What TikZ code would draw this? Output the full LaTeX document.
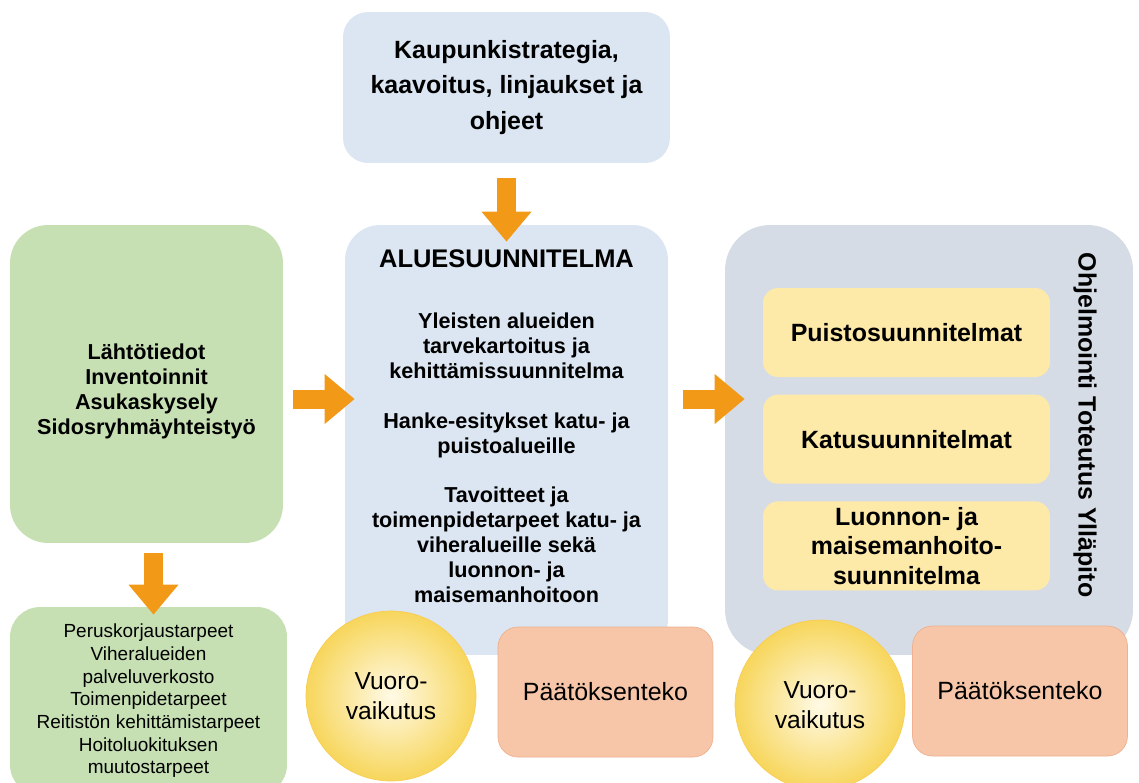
\documentclass[tikz,border=0pt]{standalone}
\usepackage{fontspec}
\setmainfont{Liberation Sans}
\usetikzlibrary{arrows.meta,positioning}
\definecolor{sininen}{RGB}{220,230,242}
\definecolor{vihrea}{RGB}{198,224,180}
\definecolor{harmaa}{RGB}{214,220,229}
\definecolor{keltainen}{RGB}{253,233,168}
\definecolor{oranssi}{RGB}{242,154,24}
\definecolor{lohi}{RGB}{247,198,168}
\definecolor{lohireuna}{RGB}{238,176,142}
\definecolor{pallokeski}{RGB}{255,250,230}
\definecolor{palloreuna}{RGB}{247,214,92}
\tikzset{
    laatikko/.style={
           rectangle,
           inner sep=0pt,
           align=center,
           text centered},
    isoteksti/.style={
           font=\fontsize{14.2}{17.6}\selectfont\bfseries,
           align=center},
    teksti/.style={
           font=\fontsize{12.3}{14.2}\selectfont\bfseries,
           align=center},
    sisa/.style={
           laatikko,
           isoteksti,
           fill=keltainen,
           rounded corners=0.3cm,
           minimum width=5.74cm,
           minimum height=1.78cm},
    pallo/.style={
           circle,
           draw=palloreuna!90!orange,
           inner color=pallokeski,
           outer color=palloreuna,
           minimum size=3.4cm,
           inner sep=0pt,
           align=center,
           font=\fontsize{14}{17}\selectfont},
    paatos/.style={
           laatikko,
           rounded corners=0.4cm,
           fill=lohi,
           draw=lohireuna,
           minimum width=4.3cm,
           minimum height=2.6cm,
           font=\fontsize{14.2}{17}\selectfont},
    nuoli/.style={
           draw=oranssi,
           line width=0.38cm,
           -{Triangle[width=0.96cm,length=0.6cm]}}
}
\begin{document}
\begin{tikzpicture}[x=0.02cm, y=-0.02cm, node distance=0.34cm]
        \useasboundingbox (0,0) rectangle (1139,782);
        \node[laatikko, font=\fontsize{14.2}{20}\selectfont\bfseries, fill=sininen, rounded corners=0.5cm, minimum width=6.54cm, minimum height=3.02cm] (strat) at (506.5,87.5) {Kaupunkistrategia,\\kaavoitus, linjaukset ja\\ohjeet};
        \node[laatikko, fill=sininen, rounded corners=0.7cm, minimum width=6.46cm, minimum height=8.6cm] (alue) at (506.5,440) {};
        \node[font=\fontsize{14.5}{17}\selectfont\bfseries, anchor=base] (aluenimi) at (506.5,267) {ALUESUUNNITELMA};
        \node[teksti] (aluetxt) at (506.5,458) {Yleisten alueiden\\tarvekartoitus ja\\kehittämissuunnitelma\\[14pt]Hanke-esitykset katu- ja\\puistoalueille\\[14pt]Tavoitteet ja\\toimenpidetarpeet katu- ja\\viheralueille sekä\\luonnon- ja\\maisemanhoitoon};
        \node[laatikko, fill=vihrea, rounded corners=0.76cm, minimum width=5.46cm, minimum height=6.36cm] (lahto) at (146.5,384) {};
        \node[teksti] (lahtotxt) at (146.5,391) {Lähtötiedot\\Inventoinnit\\Asukaskysely\\Sidosryhmäyhteistyö};
        \node[laatikko, fill=vihrea, rounded corners=0.6cm, minimum width=5.54cm, minimum height=3.76cm, font=\fontsize{10.8}{12.9}\selectfont] (tarve) at (148.5,701) {Peruskorjaustarpeet\\Viheralueiden\\palveluverkosto\\Toimenpidetarpeet\\Reitistön kehittämistarpeet\\Hoitoluokituksen\\muutostarpeet};
        \node[laatikko, fill=harmaa, rounded corners=0.9cm, minimum width=8.16cm, minimum height=8.6cm] (ohj) at (929,440) {};
        \node[isoteksti, rotate=-90] (ohjnimi) at (1085,425) {Ohjelmointi Toteutus Ylläpito};
        \node[sisa] (puisto) at (906.5,332.5) {Puistosuunnitelmat};
        \node[sisa, below=of puisto] (katu) {Katusuunnitelmat};
        \node[sisa, below=of katu, font=\fontsize{14.2}{16.7}\selectfont\bfseries] (luonto) {Luonnon- ja\\maisemanhoito-\\suunnitelma};
        \node[pallo] (vv1) at (391,696) {Vuoro-\\vaikutus};
        \node[paatos] (pt1) at (605.5,692) {Päätöksenteko};
        \node[pallo] (vv2) at (820,705) {Vuoro-\\vaikutus};
        \node[paatos] (pt2) at (1020,691) {Päätöksenteko};

        \draw[nuoli, shorten <=0.3cm, shorten >=-0.34cm] (strat) -- (alue);
        \draw[nuoli, shorten <=0.2cm, shorten >=-0.16cm] ([xshift=0.14cm]lahto.south) -- ([xshift=0.14cm]lahto.south |- tarve.north);
        \draw[nuoli, shorten <=0.2cm, shorten >=-0.2cm] ([yshift=-0.3cm]lahto.east) -- ([yshift=-0.3cm]lahto.east -| alue.west);
        \draw[nuoli, shorten <=0.3cm, shorten >=-0.4cm] ([yshift=0.82cm]alue.east) -- ([yshift=0.82cm]alue.east -| ohj.west);
    \end{tikzpicture}
\end{document}
